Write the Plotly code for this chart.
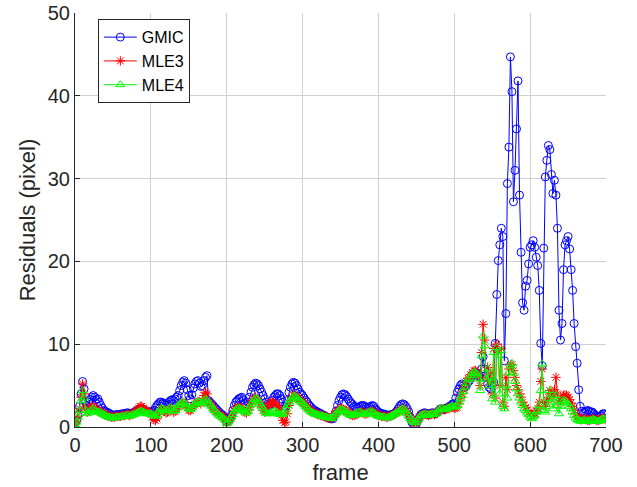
import plotly.graph_objects as go

frames = list(range(0, 701, 2))

gmic = [
    0.5, 0.8, 1.5, 2.5, 4.0, 5.5, 4.6, 3.0, 2.6, 3.0,
    3.3, 3.6, 3.8, 3.6, 3.3, 3.4, 3.0, 2.6, 2.3, 2.0,
    1.9, 1.8, 1.7, 1.6, 1.5, 1.4, 1.4, 1.5, 1.5, 1.5,
    1.5, 1.6, 1.6, 1.6, 1.7, 1.7, 1.6, 1.6, 1.7, 1.8,
    1.9, 2.0, 2.1, 2.2, 2.2, 2.1, 2.0, 1.9, 1.8, 1.8,
    1.8, 1.9, 2.0, 2.3, 2.6, 2.8, 3.0, 3.0, 2.9, 2.8,
    2.7, 2.8, 3.0, 3.2, 3.3, 3.2, 3.4, 3.6, 3.8, 4.4,
    5.0, 5.4, 5.6, 5.3, 4.5, 3.8, 3.4, 3.9, 4.7, 5.2,
    5.5, 5.6, 5.3, 4.9, 5.0, 5.6, 6.0, 6.2, 3.2, 3.0,
    2.8, 2.6, 2.4, 2.2, 2.0, 1.8, 1.6, 1.5, 1.3, 1.1,
    0.6, 0.8, 1.0, 1.4, 2.0, 2.6, 3.0, 3.2, 3.4, 3.5,
    3.6, 3.3, 2.8, 2.6, 3.0, 3.6, 4.2, 4.8, 5.1, 5.3,
    5.2, 5.0, 4.6, 4.2, 3.8, 3.4, 3.0, 2.8, 2.6, 2.8,
    3.2, 3.6, 3.8, 4.0, 4.0, 3.8, 3.4, 3.0, 2.5, 2.4,
    3.2, 4.2, 4.8, 5.2, 5.4, 5.3, 5.0, 4.6, 4.2, 4.0,
    3.8, 3.5, 3.2, 3.0, 2.7, 2.5, 2.3, 2.1, 2.0, 1.9,
    1.8, 1.7, 1.6, 1.5, 1.4, 1.3, 1.2, 1.1, 1.0, 1.0,
    1.0, 1.4, 1.9, 2.6, 3.2, 3.6, 3.9, 4.0, 3.9, 3.7,
    3.4, 3.1, 2.9, 2.7, 2.5, 2.4, 2.3, 2.4, 2.5, 2.6,
    2.6, 2.5, 2.4, 2.3, 2.4, 2.5, 2.6, 2.5, 2.2, 2.0,
    1.8, 1.7, 1.6, 1.6, 1.5, 1.5, 1.4, 1.4, 1.5, 1.5,
    1.6, 1.7, 1.9, 2.2, 2.5, 2.7, 2.8, 2.7, 2.5, 2.2,
    1.8, 1.2, 0.6, 0.3, 0.2, 0.4, 0.8, 1.2, 1.5, 1.6,
    1.7, 1.7, 1.6, 1.5, 1.6, 1.7, 1.7, 1.6, 1.7, 1.8,
    2.0, 2.2, 2.2, 2.1, 2.2, 2.3, 2.4, 2.5, 2.6, 2.8,
    2.8, 3.5, 4.2, 4.6, 5.0, 5.2, 5.0, 4.8, 5.0, 5.4,
    5.6, 6.0, 6.3, 6.5, 6.6, 6.5, 6.2, 6.0, 7.0, 8.5,
    7.0, 6.0, 5.2, 4.8, 4.6, 5.0, 5.4, 10.1, 16.0, 20.1,
    22.0, 24.0, 23.0, 8.0, 13.7, 29.4, 33.8, 44.7, 40.5, 27.2,
    31.0, 36.0, 41.8, 28.0, 21.1, 15.0, 14.1, 17.0, 17.7, 19.7,
    21.7, 22.0, 22.5, 21.7, 20.5, 19.5, 16.5, 10.1, 7.4, 21.6,
    30.2, 32.2, 34.0, 33.5, 30.5, 28.2, 29.8, 28.0, 24.0, 14.1,
    10.5, 12.5, 19.0, 22.0, 22.5, 23.0, 21.5, 19.0, 16.5, 12.5,
    9.7, 7.7, 4.5, 2.5, 1.9, 1.7, 1.8, 1.9, 2.0, 1.9,
    1.8, 1.8, 1.6, 1.4, 1.3, 1.2, 1.3, 1.4, 1.6, 1.6,
    1.4,
]

mle3 = [
    0.4, 0.7, 1.3, 2.2, 3.6, 5.2, 4.0, 2.4, 1.8, 2.0,
    2.2, 2.4, 2.5, 2.3, 2.1, 2.0, 1.9, 1.8, 1.7, 1.6,
    1.5, 1.4, 1.3, 1.3, 1.2, 1.2, 1.2, 1.3, 1.3, 1.3,
    1.3, 1.4, 1.4, 1.4, 1.5, 1.5, 1.4, 1.5, 1.6, 1.7,
    1.9, 2.1, 2.3, 2.5, 2.5, 2.3, 2.1, 2.0, 1.8, 1.8,
    1.6, 1.2, 0.9, 0.8, 1.0, 1.5, 2.0, 2.2, 2.1, 1.9,
    1.7, 1.8, 2.0, 2.2, 2.1, 1.8, 1.9, 2.1, 2.4, 2.6,
    2.8, 3.0, 2.9, 2.6, 2.3, 2.0, 2.0, 2.2, 2.5, 2.7,
    2.9, 3.1, 3.0, 2.8, 3.2, 3.8, 4.2, 4.0, 3.0, 2.8,
    2.6, 2.3, 2.1, 1.9, 1.7, 1.5, 1.4, 1.3, 1.2, 1.0,
    0.5, 0.7, 0.9, 1.2, 1.6, 2.0, 2.2, 2.4, 2.4, 2.3,
    2.2, 2.0, 1.8, 1.7, 2.0, 2.4, 2.8, 3.2, 3.4, 3.6,
    3.4, 3.1, 2.8, 2.4, 2.0, 1.8, 1.9, 2.4, 2.8, 3.0,
    3.0, 2.9, 2.8, 2.6, 2.4, 2.0, 1.4, 0.8, 0.5, 0.6,
    1.6, 2.6, 3.2, 3.6, 3.8, 3.8, 3.6, 3.5, 3.3, 3.1,
    3.0, 2.8, 2.6, 2.4, 2.2, 2.0, 1.9, 1.8, 1.7, 1.6,
    1.5, 1.5, 1.4, 1.4, 1.3, 1.2, 1.2, 1.1, 1.1, 1.0,
    1.2, 1.5, 1.7, 1.9, 2.1, 2.2, 2.2, 2.1, 2.0, 1.9,
    1.8, 1.6, 1.5, 1.4, 1.4, 1.5, 1.6, 1.7, 1.8, 1.8,
    1.7, 1.6, 1.6, 1.7, 1.8, 1.9, 1.9, 1.8, 1.6, 1.5,
    1.4, 1.4, 1.3, 1.3, 1.3, 1.2, 1.2, 1.3, 1.3, 1.4,
    1.5, 1.6, 1.7, 1.8, 2.0, 2.1, 2.2, 2.1, 1.9, 1.7,
    1.4, 1.1, 0.8, 0.6, 0.5, 0.6, 0.9, 1.2, 1.4, 1.5,
    1.5, 1.6, 1.5, 1.4, 1.5, 1.6, 1.6, 1.5, 1.6, 1.8,
    2.0, 2.2, 2.2, 2.1, 2.1, 2.2, 2.3, 2.3, 2.4, 2.4,
    2.3, 2.3, 2.4, 2.8, 3.4, 4.0, 4.5, 5.0, 5.5, 5.9,
    6.0, 6.3, 6.6, 6.8, 6.8, 6.6, 6.0, 5.0, 9.0, 12.4,
    10.5, 6.0, 7.2, 5.5, 6.5, 4.0, 9.5, 3.5, 10.0, 9.0,
    5.0, 9.5, 3.0, 2.5, 6.0, 4.5, 7.0, 7.5, 7.5, 6.8,
    6.0, 5.0, 4.5, 4.0, 3.6, 3.0, 2.6, 2.4, 2.0, 1.8,
    1.5, 1.3, 1.4, 1.6, 2.0, 2.2, 3.0, 5.5, 7.0, 3.0,
    2.5, 3.0, 3.6, 4.4, 4.0, 3.6, 4.5, 6.0, 4.0, 3.0,
    3.2, 3.5, 3.8, 3.9, 3.8, 3.6, 3.3, 2.9, 2.5, 2.0,
    1.6, 1.2, 1.0, 0.9, 0.9, 1.0, 1.0, 0.9, 0.8, 0.8,
    0.9, 1.0, 1.0, 0.9, 0.8, 0.8, 0.9, 1.0, 1.1, 1.0,
    0.9,
]

mle4 = [
    0.3, 0.6, 1.2, 2.0, 3.2, 4.4, 3.5, 2.0, 1.6, 1.7,
    1.9, 2.1, 2.2, 2.0, 1.9, 1.8, 1.8, 1.7, 1.6, 1.5,
    1.4, 1.3, 1.2, 1.2, 1.1, 1.1, 1.1, 1.2, 1.2, 1.2,
    1.2, 1.3, 1.3, 1.3, 1.4, 1.4, 1.3, 1.4, 1.5, 1.5,
    1.6, 1.7, 1.8, 1.9, 1.9, 1.8, 1.7, 1.6, 1.6, 1.6,
    1.6, 1.5, 1.4, 1.3, 1.5, 1.8, 2.1, 2.3, 2.2, 2.0,
    1.8, 2.0, 2.2, 2.4, 2.2, 1.9, 2.0, 2.3, 2.6, 2.8,
    2.9, 3.0, 2.9, 2.7, 2.4, 2.2, 2.1, 2.3, 2.6, 2.8,
    2.9, 3.1, 3.0, 2.8, 3.0, 3.2, 3.4, 3.2, 2.9, 2.7,
    2.5, 2.2, 2.0, 1.8, 1.6, 1.4, 1.3, 1.2, 1.0, 0.8,
    0.4, 0.6, 0.9, 1.2, 1.5, 1.9, 2.1, 2.2, 2.3, 2.2,
    2.1, 2.0, 1.8, 1.7, 1.9, 2.3, 2.7, 3.0, 3.3, 3.5,
    3.4, 3.1, 2.8, 2.5, 2.2, 1.9, 1.7, 1.6, 1.6, 1.7,
    1.8, 1.9, 1.9, 1.8, 1.6, 1.5, 1.5, 1.6, 1.8, 2.2,
    2.6, 3.0, 3.3, 3.5, 3.7, 3.7, 3.6, 3.4, 3.2, 3.0,
    2.9, 2.7, 2.5, 2.3, 2.1, 1.9, 1.8, 1.7, 1.6, 1.5,
    1.5, 1.4, 1.4, 1.3, 1.3, 1.2, 1.2, 1.1, 1.1, 1.0,
    1.2, 1.4, 1.6, 1.8, 2.0, 2.1, 2.1, 2.0, 1.9, 1.8,
    1.6, 1.5, 1.4, 1.4, 1.5, 1.6, 1.7, 1.8, 1.8, 1.7,
    1.6, 1.5, 1.6, 1.7, 1.8, 1.9, 1.8, 1.7, 1.5, 1.4,
    1.3, 1.3, 1.2, 1.2, 1.2, 1.1, 1.1, 1.2, 1.3, 1.4,
    1.5, 1.6, 1.7, 1.8, 2.0, 2.1, 2.2, 2.1, 1.9, 1.6,
    1.3, 1.0, 0.8, 0.6, 0.5, 0.6, 0.9, 1.2, 1.4, 1.5,
    1.5, 1.6, 1.5, 1.4, 1.5, 1.6, 1.6, 1.5, 1.6, 1.9,
    2.1, 2.3, 2.3, 2.1, 2.1, 2.2, 2.3, 2.4, 2.5, 2.5,
    2.4, 2.5, 2.6, 3.0, 3.4, 3.8, 4.3, 4.8, 5.3, 5.7,
    5.9, 6.2, 6.5, 6.6, 6.6, 6.4, 5.8, 4.4, 8.6, 11.0,
    9.8, 5.8, 7.0, 5.0, 6.0, 3.4, 9.0, 3.0, 9.6, 8.6,
    4.0, 9.2, 2.5, 2.2, 5.0, 3.5, 6.6, 7.4, 7.7, 6.5,
    5.5, 4.6, 4.0, 3.5, 3.0, 2.6, 2.2, 2.0, 1.7, 1.5,
    1.2, 1.0, 1.2, 1.4, 1.8, 2.0, 2.6, 4.4, 7.6, 2.0,
    1.8, 2.5, 3.4, 4.4, 3.0, 2.2, 3.5, 3.8, 2.6, 1.6,
    2.5, 3.0, 3.2, 3.2, 3.0, 2.8, 2.5, 2.2, 1.8, 1.4,
    1.1, 0.9, 0.8, 0.7, 0.7, 0.8, 0.8, 0.7, 0.7, 0.7,
    0.8, 0.9, 0.9, 0.8, 0.7, 0.7, 0.8, 0.9, 1.0, 1.0,
    0.8,
]

series_names = ["GMIC", "MLE3", "MLE4"]
x_tick_vals = [0, 100, 200, 300, 400, 500, 600, 700]
y_tick_vals = [0, 10, 20, 30, 40, 50]
x_title = "frame"
y_title = "Residuals (pixel)"

styles = [
    dict(color="#0000FF", symbol="circle-open", size=8),
    dict(color="#FF0000", symbol="asterisk-open", size=8),
    dict(color="#00FF00", symbol="triangle-up-open", size=8),
]

fig = go.Figure()
for name, ys, st in zip(series_names, [gmic, mle3, mle4], styles):
    fig.add_trace(go.Scatter(
        x=frames, y=ys, name=name, mode="lines+markers",
        line=dict(color=st["color"], width=1),
        marker=dict(symbol=st["symbol"], size=st["size"], color=st["color"],
                    line=dict(color=st["color"], width=1)),
    ))

FONT = "Liberation Sans, Arial, sans-serif"
axis_font = dict(family=FONT, size=20, color="#262626")
title_font = dict(family=FONT, size=22, color="#262626")

fig.update_layout(
    width=637, height=487,
    margin=dict(l=75, r=31, t=13, b=60),
    paper_bgcolor="white", plot_bgcolor="white",
    font=dict(family=FONT, color="#262626"),
    showlegend=True,
    legend=dict(
        x=0.043, y=0.985, xanchor="left", yanchor="top",
        bgcolor="white", bordercolor="#262626", borderwidth=1,
        font=dict(family=FONT, size=16, color="black"),
        tracegroupgap=0, itemwidth=33,
    ),
)
fig.update_xaxes(
    range=[0, 700], tickvals=x_tick_vals, ticks="inside", ticklen=5,
    tickcolor="#262626", showline=True, linecolor="#262626", linewidth=1,
    mirror=False, showgrid=True, gridcolor="#d0d0d0", gridwidth=1,
    zeroline=False, tickfont=axis_font, automargin=False,
    ticklabeloverflow="allow",
    title=dict(text=x_title, font=title_font, standoff=9),
)
fig.update_yaxes(
    range=[0, 50], tickvals=y_tick_vals, ticks="inside", ticklen=5,
    tickcolor="#262626", showline=True, linecolor="#262626", linewidth=1,
    mirror=False, showgrid=True, gridcolor="#d0d0d0", gridwidth=1,
    zeroline=False, tickfont=axis_font, automargin=False,
    ticklabeloverflow="allow",
    title=dict(text=y_title, font=title_font, standoff=6),
)

fig.write_html(
    "out.html",
    config={"displayModeBar": False},
    post_script="document.body.style.margin='0';document.body.style.overflow='hidden';",
)
